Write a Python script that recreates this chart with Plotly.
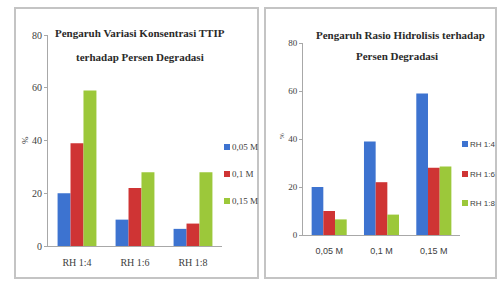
import plotly.graph_objects as go

# Data
left_categories = ["RH 1:4", "RH 1:6", "RH 1:8"]
left_series = {
    "0,05 M": [20, 10, 6.5],
    "0,1 M": [39, 22, 8.5],
    "0,15 M": [59, 28, 28],
}
right_categories = ["0,05 M", "0,1 M", "0,15 M"]
right_series = {
    "RH 1:4": [20, 39, 59],
    "RH 1:6": [10, 22, 28],
    "RH 1:8": [6.5, 8.5, 28.5],
}
y_ticks = [0, 20, 40, 60, 80]

colors = ["#3d73d0", "#cf3434", "#9cc83a"]
W, H = 499, 287


def px_x(p):
    return p / W


def px_y(p):
    return 1 - p / H


fig = go.Figure()

for i, (name, vals) in enumerate(left_series.items()):
    fig.add_trace(go.Bar(
        x=left_categories, y=vals, name=name,
        marker=dict(color=colors[i], line=dict(width=0)),
        xaxis="x", yaxis="y", showlegend=False,
    ))
for i, (name, vals) in enumerate(right_series.items()):
    fig.add_trace(go.Bar(
        x=right_categories, y=vals, name=name,
        marker=dict(color=colors[i], line=dict(width=0)),
        xaxis="x2", yaxis="y2", showlegend=False,
    ))

serif = "Liberation Serif"
sans = "Liberation Sans"
axis_col = "#a8a8a8"
txt_col = "#404040"

common_y = dict(
    range=[0, 80], tickvals=y_ticks, showgrid=False, zeroline=False,
    showline=True, linecolor=axis_col, linewidth=1,
    ticks="outside", ticklen=3, tickcolor=axis_col,
    fixedrange=True,
)
common_x = dict(
    showgrid=False, zeroline=False, showline=True, linecolor=axis_col,
    linewidth=1, ticks="", fixedrange=True, ticklabelstandoff=7,
)

fig.update_layout(
    width=W, height=H,
    margin=dict(l=0, r=0, t=0, b=0, autoexpand=False),
    paper_bgcolor="white", plot_bgcolor="white",
    barmode="group", bargap=0.33, bargroupgap=0.0,
    xaxis=dict(domain=[px_x(48), px_x(222)], anchor="y",
               tickfont=dict(family=serif, size=10, color=txt_col), **common_x),
    yaxis=dict(domain=[px_y(246), px_y(35)], anchor="x",
               tickfont=dict(family=serif, size=10, color=txt_col), **common_y),
    xaxis2=dict(domain=[px_x(303), px_x(460)], anchor="y2",
                tickfont=dict(family=sans, size=9, color=txt_col), **common_x),
    yaxis2=dict(domain=[px_y(235), px_y(43)], anchor="x2",
                tickfont=dict(family=serif, size=9, color=txt_col), **common_y),
    showlegend=False,
)

# Panel borders
fig.add_shape(type="rect", xref="paper", yref="paper",
              x0=px_x(15), x1=px_x(258), y0=px_y(278), y1=px_y(8),
              line=dict(color="#c4c4c4", width=2))
fig.add_shape(type="rect", xref="paper", yref="paper",
              x0=px_x(265), x1=px_x(496), y0=px_y(278), y1=px_y(8),
              line=dict(color="#c4c4c4", width=2))

# Legends (swatch + label), positioned as in the reference
legend_specs = [
    (list(left_series.keys()), 224, [147, 174, 201], serif, 9),
    (list(right_series.keys()), 462, [144, 174, 203], sans, 8),
]
for names, lx, ys, fam, fs in legend_specs:
    for i, (name, yy) in enumerate(zip(names, ys)):
        fig.add_shape(type="rect", xref="paper", yref="paper",
                      x0=px_x(lx), x1=px_x(lx + 6), y0=px_y(yy + 3), y1=px_y(yy - 3),
                      fillcolor=colors[i], line=dict(width=0))
        fig.add_annotation(text=name, xref="paper", yref="paper",
                           x=px_x(lx + 6), y=px_y(yy), xanchor="left", yanchor="middle",
                           showarrow=False,
                           font=dict(family=fam, size=fs, color=txt_col))

# Titles (one annotation per line)
title_lines = [
    ("Pengaruh Variasi Konsentrasi TTIP", 140, 33),
    ("terhadap Persen Degradasi", 140, 57),
    ("Pengaruh Rasio Hidrolisis terhadap", 400, 35),
    ("Persen Degradasi", 397, 56),
]
for txt, cx, cy in title_lines:
    fig.add_annotation(text="<b>%s</b>" % txt, xref="paper", yref="paper",
                       x=px_x(cx), y=px_y(cy), xanchor="center", yanchor="middle",
                       showarrow=False,
                       font=dict(family=serif, size=11, color="#2a2a2a"))

# Y axis titles
fig.add_annotation(text="%", xref="paper", yref="paper", x=px_x(25), y=px_y(140),
                   xanchor="center", yanchor="middle",
                   showarrow=False, textangle=-90,
                   font=dict(family=serif, size=9, color=txt_col))
fig.add_annotation(text="%", xref="paper", yref="paper", x=px_x(282), y=px_y(136),
                   xanchor="center", yanchor="middle",
                   showarrow=False, textangle=-90,
                   font=dict(family=serif, size=7, color=txt_col))

fig.write_html("out.html", config={"responsive": False, "displayModeBar": False},
               post_script="document.body.style.margin='0px';document.body.style.overflow='hidden';")
